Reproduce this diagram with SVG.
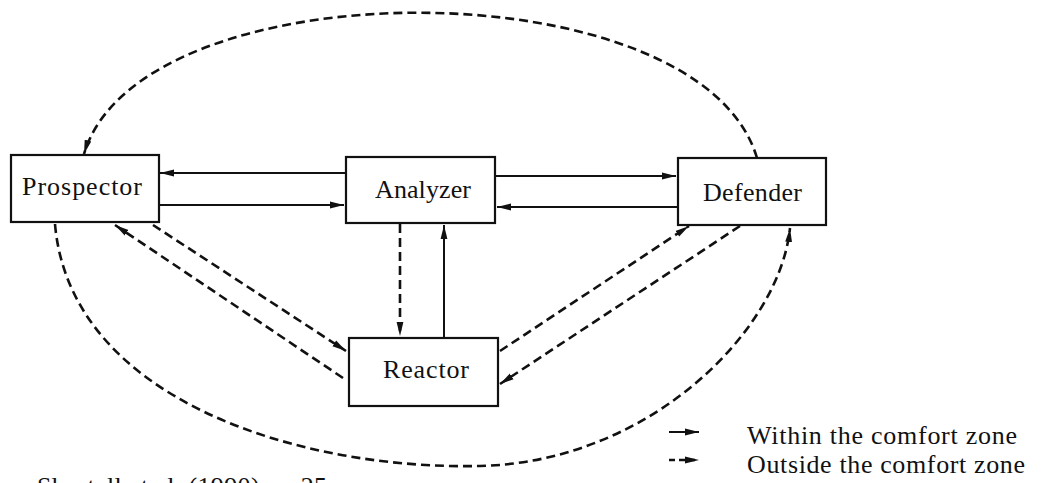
<svg xmlns="http://www.w3.org/2000/svg" width="1042" height="483" viewBox="0 0 1042 483">
<style>
.box{fill:#fff;stroke:#111;stroke-width:2.2}
.lbl{font-family:"Liberation Serif","Times New Roman",serif;font-size:26px;fill:#111}
.solid{fill:none;stroke:#111;stroke-width:2}
.dash{fill:none;stroke:#111;stroke-width:2.6;stroke-dasharray:9 5}
.ldash{fill:none;stroke:#111;stroke-width:2.4;stroke-dasharray:6 4}
</style>
<defs>
<marker id="ah" markerUnits="userSpaceOnUse" markerWidth="16" markerHeight="10" viewBox="0 -5 16 10" refX="14" refY="0" orient="auto">
<path d="M0,-3.4 L14,0 L0,3.4 Z" fill="#111"/>
</marker>
</defs>
<rect width="1042" height="483" fill="#fff"/>
<g id="connectors">
<line class="solid" x1="346" y1="173" x2="160" y2="173" marker-end="url(#ah)"/>
<line class="solid" x1="159" y1="205" x2="344" y2="205" marker-end="url(#ah)"/>
<line class="solid" x1="495" y1="176" x2="676" y2="176" marker-end="url(#ah)"/>
<line class="solid" x1="678" y1="207" x2="497" y2="207" marker-end="url(#ah)"/>
<line class="solid" x1="444" y1="338" x2="444" y2="225" marker-end="url(#ah)"/>
<line class="dash" x1="400" y1="224" x2="400" y2="336" marker-end="url(#ah)"/>
<line class="dash" x1="153" y1="225" x2="346" y2="351" marker-end="url(#ah)"/>
<line class="dash" x1="343" y1="378" x2="115" y2="225" marker-end="url(#ah)"/>
<line class="dash" x1="500" y1="351" x2="689" y2="226" marker-end="url(#ah)"/>
<line class="dash" x1="740" y1="226" x2="500" y2="384" marker-end="url(#ah)"/>
<path class="dash" d="M55,224 C70,400 300,470 480,466 C650,462 780,330 790,228" marker-end="url(#ah)"/>
<path class="dash" d="M757,158 C700,-35 140,-35 84,154" marker-end="url(#ah)"/>
</g>
<g id="prospector">
<rect class="box" x="11" y="155" width="148" height="67"/>
<text class="lbl" x="22" y="195" textLength="120">Prospector</text>
</g>
<g id="analyzer">
<rect class="box" x="346" y="157" width="149" height="66"/>
<text class="lbl" x="375" y="198" textLength="96">Analyzer</text>
</g>
<g id="defender">
<rect class="box" x="678" y="158" width="148" height="67"/>
<text class="lbl" x="703" y="201" textLength="99">Defender</text>
</g>
<g id="reactor">
<rect class="box" x="349" y="338" width="149" height="68"/>
<text class="lbl" x="383" y="378" textLength="86">Reactor</text>
</g>
<g id="legend">
<line class="solid" x1="669" y1="432" x2="699" y2="432" marker-end="url(#ah)"/>
<line class="ldash" x1="669" y1="460" x2="699" y2="460" marker-end="url(#ah)"/>
<text class="lbl" x="747" y="444" textLength="270">Within the comfort zone</text>
<text class="lbl" x="747" y="473" textLength="278">Outside the comfort zone</text>
</g>
<text class="lbl" x="37" y="495" textLength="290">Shortell et al. (1990), p. 25</text>
</svg>
